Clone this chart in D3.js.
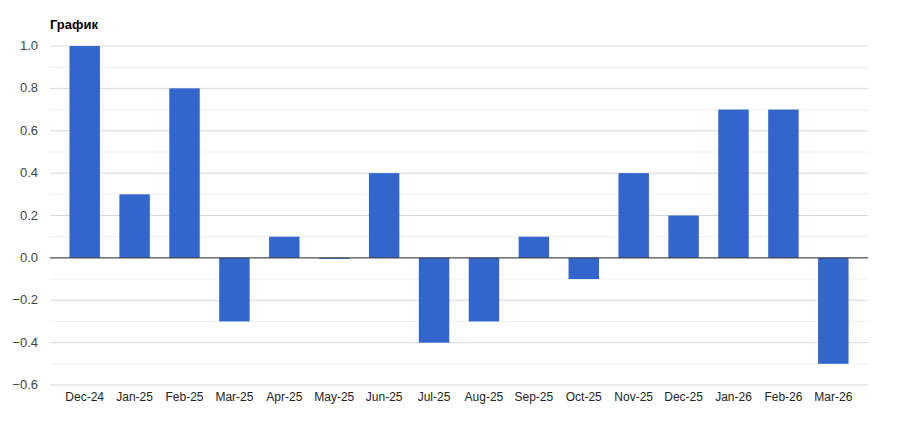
<!DOCTYPE html>
<html><head><meta charset="utf-8">
<script src="https://cdn.jsdelivr.net/npm/d3@7"></script>
<style>body{margin:0;background:#fff}text{font-family:Arial,"Liberation Sans",sans-serif}</style>
</head><body><div id="vis"></div>
<script>
const months = ["Dec-24","Jan-25","Feb-25","Mar-25","Apr-25","May-25","Jun-25","Jul-25","Aug-25","Sep-25","Oct-25","Nov-25","Dec-25","Jan-26","Feb-26","Mar-26"];
const values = [1.0,0.3,0.8,-0.3,0.1,0.0,0.4,-0.4,-0.3,0.1,-0.1,0.4,0.2,0.7,0.7,-0.5];
const yTicks = [-0.6,-0.4,-0.2,0,0.2,0.4,0.6,0.8,1.0];
const minorTicks = [-0.5,-0.3,-0.1,0.1,0.3,0.5,0.7,0.9];

const svg = d3.select("#vis").append("svg").attr("width", 900).attr("height", 424);

const x = d3.scaleBand().domain(months).range([50, 868]).padding(0.39);
const y = d3.scaleLinear().domain([-0.6, 1.0]).range([385, 46]);

svg.append("text").attr("x", 50).attr("y", 29)
    .style("font-size", "13px").style("font-weight", "bold").text("График");

// grid
svg.selectAll(".minor").data(minorTicks).enter().append("line")
    .attr("x1", 50).attr("x2", 868)
    .attr("y1", d => y(d)).attr("y2", d => y(d))
    .style("stroke", "#f0f0f0");
svg.selectAll(".major").data(yTicks).enter().append("line")
    .attr("x1", 50).attr("x2", 868)
    .attr("y1", d => y(d)).attr("y2", d => y(d))
    .style("stroke", "#d9d9d9");

svg.selectAll(".ylab").data(yTicks).enter().append("text")
    .attr("x", 38).attr("y", d => y(d) + 4)
    .attr("text-anchor", "end")
    .style("font-size", "13px").style("fill", "#444")
    .text(d => d3.format(".1f")(d));

// bars
svg.selectAll(".bar").data(values).enter().append("rect")
    .attr("x", (d, i) => x(months[i]))
    .attr("width", x.bandwidth())
    .attr("y", d => y(Math.max(0, d)))
    .attr("height", d => Math.max(1, Math.abs(y(d) - y(0))))
    .style("fill", "#3366cc");

svg.append("line").attr("x1", 50).attr("x2", 868)
    .attr("y1", y(0)).attr("y2", y(0)).style("stroke", "#333");

svg.selectAll(".xlab").data(months).enter().append("text")
    .attr("x", d => x(d) + x.bandwidth() / 2).attr("y", 401)
    .attr("text-anchor", "middle")
    .style("font-size", "12px").style("fill", "#222")
    .text(d => d);
</script></body></html>
